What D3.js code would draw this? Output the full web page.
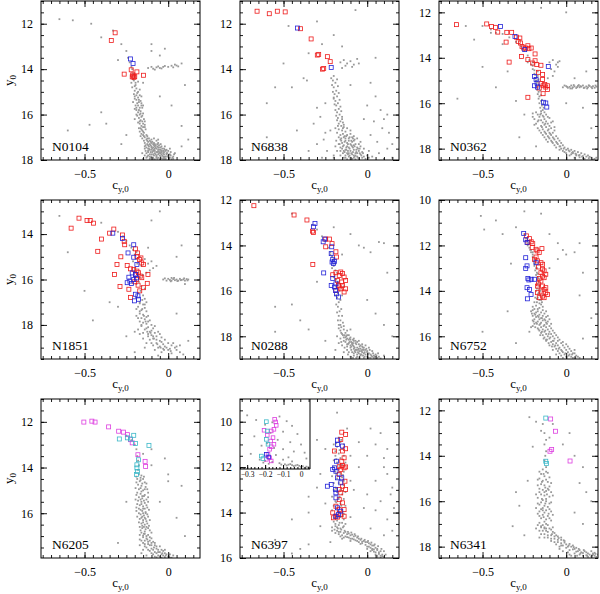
<!DOCTYPE html>
<html>
<head>
<meta charset="utf-8">
<script src="https://cdn.jsdelivr.net/npm/d3@7"></script>
<style>
  body { margin: 0; background: #fff; }
  text { font-family: "Liberation Serif", "DejaVu Serif", serif; fill: #000; }
</style>
</head>
<body>
<svg id="chart" width="600" height="594"></svg>
<script>
// ---- data: flat [c_y0, y0, c_y0, y0, ...] ----
const n0104Gray = [-.65,11.8,-.57,11.85,-.46,12,-.4,12.6,-.33,12.3,-.28,12.9,-.02,13.1,-.05,13.4,.04,13.8,.08,13.75,.1,14.7,-.4,15.9,-.47,16.45,-.37,16.4,.08,16.5,-.28,17.3,.08,17.4,.12,17.1,-.3,13.6,-.1,13.2,-.15,14.6,-.05,15.2,.02,15.6,-.6,16.7,-.25,16.9,-.1,12.9,
  -.25,13.2,-.24,13.5,-.23,13.7,-.22,13.9,-.215,14,-.21,14.2,-.2,14.35,-.205,14.5,-.195,14.6,
  -.12,13.95,-.1,13.9,-.09,13.98,-.07,13.92,-.06,13.88,-.05,13.95,-.03,13.9,-.02,13.86,0,13.9,.02,13.85,.03,13.92,.05,13.84,.06,13.88,-.08,14.02,-.04,13.97,
  -.195,14.7,-.19,14.85,-.2,14.95,-.185,15.05,-.19,15.15,-.18,15.25,-.19,15.35,-.175,15.45,-.185,15.5,-.18,15.6,-.17,15.7,-.175,15.8,-.165,15.85,-.18,15.9,-.17,16,-.16,16.1,-.175,16.15,-.165,16.25,-.155,16.3,-.17,16.4,-.16,16.5,-.15,16.55,-.165,16.6,-.155,16.7,-.145,16.8,-.16,16.85,-.15,16.9,-.14,17,-.155,17.05,-.2,16.2,-.14,16.3,-.15,15.6,
  -.21,14.45,-.18,14.55,-.215,14.8,-.17,14.9,-.205,15.1,-.16,15.2,-.2,15.3,-.165,15.4,-.195,15.6,-.155,15.7,-.19,15.8,-.15,15.95,-.185,16.05,-.145,16.2,-.18,16.35,-.14,16.45,-.175,16.6,-.135,16.65,-.17,16.75,-.13,16.9,-.165,16.95,-.125,17.05,-.2,15.75,-.16,15.5,-.21,15.45,-.15,16.75,
  -.22,14.6,-.2,14.75,-.18,15,-.17,15.15,-.2,15.2,-.175,15.35,-.16,15.6,-.19,15.7,-.165,15.95,-.19,16,-.155,16.05,-.17,16.3,-.15,16.4,-.16,16.65,-.14,16.55,-.145,16.95,
  -.13,17.1,-.12,17.2,-.11,17.15,-.1,17.25,-.12,17.35,-.09,17.3,-.08,17.4,-.1,17.45,-.11,17.55,-.07,17.5,-.09,17.6,-.06,17.55,-.08,17.7,-.1,17.75,-.05,17.65,-.07,17.8,-.04,17.75,-.06,17.9,-.09,17.9,-.03,17.85,-.05,17.97,-.02,17.95,-.08,17.97,-.11,17.85,-.12,17.65,-.13,17.45,-.04,17.4,-.06,17.25,-.03,17.6,0,17.8,.01,17.9,-.01,17.7,-.14,17.8,-.07,17.15,-.115,17.05,-.095,17.5,-.065,17.65,-.085,17.8,-.045,17.85,-.025,17.75,-.075,17.35,-.135,17.6,-.105,17.65,-.055,17.45,-.015,17.95,.02,17.97,
  -.14,17.25,-.125,17.3,-.115,17.4,-.105,17.35,-.095,17.2,-.085,17.25,-.075,17.45,-.065,17.4,-.055,17.35,-.045,17.55,-.035,17.5,-.025,17.65,-.015,17.6,-.005,17.85,.01,17.75,.03,17.85,-.13,17.7,-.12,17.8,-.11,17.95,-.1,17.85,-.09,17.75,-.08,17.6,-.07,17.65,-.06,17.75,-.05,17.8,-.04,17.65,-.03,17.95,-.02,17.85,-.01,17.55,0,17.6,-.12,17.5,-.1,17.55,-.08,17.5,-.06,17.62,-.04,17.93,-.09,17.45,-.11,17.3,-.07,17.9,-.1,17.1,-.085,17.05,-.125,16.95,-.145,17.15,-.06,17.1,-.045,17.3,-.02,17.4,.01,17.5,.04,17.7,.03,17.95,-.15,17.95,-.14,17.5,
  -.125,17.15,-.105,17.2,-.085,17.35,-.065,17.3,-.045,17.45,-.025,17.5,-.005,17.7,.015,17.8,-.135,17.35,-.115,17.5,-.095,17.65,-.075,17.75,-.055,17.7,-.035,17.8,-.015,17.85,.005,17.95,-.13,17.9,-.11,17.75,-.09,17.95,-.07,17.85,-.05,17.55,-.03,17.7,-.01,17.75,.015,17.65,-.1,17.4,-.08,17.3,-.06,17.45,-.04,17.6,-.02,17.55,-.12,17.6,-.14,17.4,-.155,17.7,-.125,17.85,-.105,17.9,-.085,17.55,-.065,17.95,-.045,17.7,-.025,17.9,.025,17.9,.035,17.75];
const n0104Red = [-.317,12.4,-.34,12.74,-.221,14.03,-.187,14.12,-.263,14.22,-.148,14.27,-.21,14.3,-.215,14.34,-.205,14.36,-.212,14.25,-.2,14.33];
const n0104Blue = [-.225,13.55,-.21,13.75];

const n6838Gray = [-.07,11.4,-.47,12.1,-.3,11.9,-.2,12.5,-.27,12.9,-.35,13.3,-.5,13.75,-.38,14.4,-.36,14.5,-.45,14.8,-.55,14.8,-.6,17,-.42,16.7,-.3,15.7,-.25,15.5,-.32,16.4,-.25,16.8,-.3,17.3,-.2,17.9,.1,16.2,.13,16.8,.12,17.5,.08,15.8,.05,15.2,.02,14.6,-.1,14.7,.15,17.9,-.15,13,-.6,15.5,.05,13.5,
  -.16,13.7,-.14,13.6,-.12,13.75,-.1,13.65,-.08,13.8,-.06,13.55,-.13,13.85,-.09,13.9,-.15,13.95,-.05,13.75,
  -.2,14.3,-.205,14.5,-.19,14.6,-.2,14.8,-.185,14.95,-.195,15.1,-.18,15.2,-.19,15.4,-.175,15.5,-.185,15.6,-.17,15.75,-.18,15.9,-.165,16,-.175,16.15,-.16,16.3,-.17,16.4,-.155,16.5,-.145,16.6,-.2,15.3,-.15,16.2,
  -.215,14.4,-.18,14.45,-.21,14.7,-.175,14.75,-.205,15,-.17,15.05,-.2,15.25,-.165,15.35,-.195,15.55,-.16,15.65,-.19,15.8,-.155,15.85,-.185,16.05,-.15,16.1,-.18,16.25,-.145,16.35,-.175,16.5,-.14,16.45,
  -.18,16.8,-.15,16.7,-.13,16.75,-.12,16.9,-.1,16.85,-.14,17,-.11,17.05,-.09,17,-.16,17.1,-.13,17.15,-.08,17.15,-.12,17.25,-.1,17.3,-.07,17.3,-.14,17.35,-.11,17.45,-.09,17.4,-.06,17.45,-.13,17.55,-.1,17.6,-.08,17.55,-.05,17.6,-.12,17.7,-.09,17.75,-.07,17.7,-.04,17.75,-.11,17.85,-.08,17.9,-.06,17.85,-.03,17.9,-.1,17.97,-.07,17.97,-.05,17.95,-.15,17.5,-.16,17.8,-.19,17.4,-.02,17.5,0,17.8,-.04,17.2,-.135,16.95,-.095,17.15,-.115,17.6,-.085,17.65,-.065,17.55,-.125,17.45,-.145,17.7,-.105,17.8,-.17,17,
  -.19,16.6,-.17,16.65,-.14,16.55,-.12,16.6,-.16,16.9,-.1,16.7,-.08,16.95,-.06,17.05,-.15,17.25,-.09,17.2,-.05,17.3,-.17,17.3,-.12,17.4,-.08,17.35,-.04,17.4,-.16,17.45,-.14,17.6,-.11,17.7,-.07,17.8,-.03,17.65,-.13,17.8,-.09,17.95,-.06,17.7,-.02,17.85,-.14,17.9,-.12,17.97,-.01,17.95,.01,17.6,.03,17.85,-.18,17.6,-.2,17.8,-.11,17.15,-.13,17.05,-.075,17.1,-.155,17.15,-.185,17.15,
  -.145,16.85,-.125,16.95,-.105,17,-.085,17.05,-.155,17.05,-.135,17.2,-.115,17.3,-.095,17.35,-.075,17.4,-.055,17.5,-.145,17.4,-.125,17.55,-.105,17.5,-.085,17.45,-.065,17.65,-.045,17.7,-.135,17.65,-.115,17.75,-.095,17.7,-.075,17.85,-.055,17.9,-.035,17.8,-.13,17.9,-.1,17.9,-.08,17.8,-.16,17.6,-.165,17.3,-.045,17.5,-.025,17.7,.01,17.9,
  -.28,16.1,-.22,16.7,-.26,17.1,-.24,17.6,.02,16.9,.06,17.2,.09,16.6,.12,16,.04,16.3,0,15.6,-.02,16.2,.15,17.3,-.35,17.6,-.27,17.9,.07,17.7,.1,17.95];
const n6838Red = [-.658,11.45,-.585,11.56,-.537,11.45,-.49,11.48,-.398,12.22,-.335,12.67,-.298,13.38,-.29,13.35,-.238,13.45,-.221,13.67,-.267,14,-.26,13.97];
const n6838Blue = [-.417,12.19,-.215,13.93];

const n0362Gray = [-.6,12.6,-.55,13.2,-.5,14.4,-.65,15.8,-.42,15.3,-.35,14.6,-.3,15.9,-.25,16.5,-.28,17.5,-.18,17.9,0,12,-.15,11.8,-.05,14.2,.05,14.9,.1,16.2,.15,17.1,-.45,12.9,-.38,13.4,.12,14.6,0,16,
  -.5,12.6,-.45,12.75,-.42,12.9,-.38,12.95,-.34,13.1,-.3,13.3,-.27,13.5,-.25,13.7,-.23,13.9,-.22,14.1,-.21,14.3,-.2,14.5,-.19,14.7,-.185,14.9,-.175,15.1,-.17,15.3,-.165,15.5,-.16,15.7,-.15,15.9,-.145,16.1,-.14,16.3,-.2,14.2,-.17,14.8,
  -.23,14.2,-.2,14.35,-.19,14.55,-.17,14.6,-.185,14.75,-.165,14.95,-.18,15,-.16,15.2,-.175,15.4,-.155,15.45,-.17,15.6,-.15,15.65,-.165,15.8,-.145,15.85,-.16,16,-.14,16.05,-.155,16.2,-.135,16.2,-.15,16.35,-.13,16.4,
  -.1,14.2,-.08,14.1,-.06,14.3,-.09,14.5,-.07,14.6,-.05,14.4,-.08,14.8,-.11,14.9,-.04,14.15,
  -.02,15.3,0,15.25,.01,15.32,.02,15.28,.03,15.22,.04,15.3,.05,15.26,.06,15.33,.07,15.24,.08,15.3,.09,15.27,.1,15.22,.11,15.31,.12,15.26,.13,15.3,.14,15.24,.15,15.29,.16,15.25,.17,15.32,.18,15.27,.035,15.35,.075,15.2,.125,15.35,
  -.01,15.22,.005,15.28,.025,15.35,.045,15.2,.065,15.29,.085,15.25,.105,15.33,.135,15.21,.155,15.34,.175,15.22,
  -.18,16.4,-.15,16.45,-.12,16.5,-.16,16.6,-.13,16.7,-.1,16.65,-.17,16.8,-.14,16.85,-.11,16.9,-.08,16.8,-.19,16.95,-.15,17,-.12,17.05,-.09,17.1,-.16,17.2,-.13,17.25,-.1,17.3,-.07,17.2,-.14,17.4,-.11,17.45,-.08,17.5,-.05,17.55,-.12,17.6,-.09,17.65,-.06,17.7,-.03,17.75,-.07,17.85,-.04,17.9,-.01,17.95,.01,18,.03,18.05,-.02,18.1,.05,18.1,.07,18.15,.04,18.2,.09,18.2,.11,18.25,.06,18.3,.13,18.3,.08,18.38,.15,18.4,.17,18.45,0,18.2,-.04,18.05,.1,18.42,.02,18.3,-.2,16.6,
  -.2,16.45,-.17,16.5,-.14,16.55,-.11,16.6,-.19,16.7,-.15,16.75,-.12,16.8,-.09,16.85,-.18,16.9,-.13,16.95,-.1,17,-.07,17.05,-.17,17.1,-.14,17.15,-.11,17.2,-.08,17.3,-.15,17.3,-.12,17.35,-.09,17.4,-.06,17.45,-.13,17.5,-.1,17.55,-.07,17.6,-.04,17.65,-.11,17.7,-.08,17.75,-.05,17.8,-.02,17.85,-.06,17.95,-.03,18,0,18.05,.02,18.12,-.01,18.15,.04,18.15,.06,18.25,.03,18.25,.08,18.28,.1,18.33,.12,18.35,.14,18.36,.11,18.45,.16,18.48,.05,18.4,.18,18.4,
  -.155,16.5,-.135,16.6,-.165,16.75,-.125,16.9,-.145,17.05,-.105,17.15,-.125,17.3,-.095,17.35,-.105,17.5,-.075,17.55,-.085,17.7,-.055,17.75,-.035,17.9,-.015,18,.015,18.08,.035,18.18,.055,18.22,.075,18.3,.095,18.35,.135,18.42];
const n0362Red = [-.655,12.54,-.475,12.51,-.446,12.62,-.422,12.66,-.409,12.87,-.355,12.88,-.326,12.88,-.359,13.31,-.297,13.09,-.287,13.28,-.273,13.35,-.264,13.5,-.254,13.57,-.242,13.57,-.223,13.6,-.209,13.57,-.277,13.13,-.229,13.47,-.341,14.19,-.267,13.94,-.229,14.08,-.2,14.23,-.186,13.83,-.186,14.13,-.176,14.3,-.151,14.33,-.165,14.64,-.141,14.74,-.141,14.96,-.151,15.14,-.138,15.23,-.128,15.18,-.161,15.33,-.122,15.29,-.112,15.23,-.112,15.4,-.138,15.58,-.229,15.74];
const n0362Blue = [-.393,12.62,-.306,13.06,-.248,13.64,-.19,14.82,-.18,14.96,-.19,15.23,-.171,15.29,-.174,15.11,-.107,14.38,-.136,15.96,-.116,16.17,-.122,15.99];

const n1851Gray = [-.65,13.2,-.4,13.5,-.6,14.8,-.5,16.5,-.35,17,-.3,17.2,-.25,18.5,-.18,18.2,.05,15,.08,14.5,-.05,13,-.1,13.4,.05,17.5,.12,18.7,.1,16.2,-.12,14.6,-.45,17.8,-.2,19.2,
  -.3,13.9,-.27,14.1,-.25,14.3,-.23,14.5,-.21,14.7,-.2,14.9,-.19,15.1,-.185,15.3,-.2,15.5,-.18,15.7,-.17,15.9,-.175,16.1,-.16,16.3,-.165,16.5,-.15,16.7,-.155,16.9,-.14,17.1,
  -.22,14.6,-.19,14.8,-.17,15,-.21,15.2,-.16,15.4,-.2,15.6,-.15,15.8,-.19,16.2,-.14,16.4,-.18,16.6,-.14,16.85,-.17,17.05,-.13,17,-.19,16.8,
  -.14,15.1,-.12,15.3,-.1,15.2,-.09,15.5,-.11,15.6,-.13,15.7,-.07,15.4,
  -.03,16,-.01,16.05,0,15.97,.01,16.02,.02,16.05,.03,15.98,.04,16.03,.05,16,.06,16.05,.07,15.97,.08,16.02,.09,16,.1,16.05,.11,15.98,.02,15.93,
  -.02,15.95,.015,16.08,.035,15.93,.055,16.07,.075,16.03,.095,15.95,.115,16.04,.12,16,
  -.17,17,-.15,17.1,-.18,17.2,-.14,17.25,-.16,17.35,-.13,17.4,-.17,17.5,-.15,17.55,-.12,17.6,-.16,17.7,-.14,17.75,-.11,17.8,-.15,17.9,-.13,17.95,-.1,18,-.12,18.1,-.09,18.15,-.14,18.2,-.11,18.3,-.08,18.35,-.06,18.3,-.1,18.45,-.07,18.5,-.04,18.55,-.09,18.6,-.05,18.7,-.02,18.65,-.07,18.8,-.03,18.85,0,18.8,-.05,18.95,.02,18.9,-.01,19,.04,19,0,19.1,.05,18.95,-.03,19.05,-.12,18.5,-.16,18,-.18,17.7,-.2,18.3,-.13,18.8,.07,19.2,-.08,19.1,
  -.19,17.3,-.17,17.4,-.19,17.6,-.13,17.65,-.17,17.85,-.12,17.85,-.16,18.05,-.13,18.15,-.1,18.25,-.15,18.35,-.12,18.4,-.09,18.5,-.11,18.65,-.07,18.65,-.04,18.75,-.09,18.9,-.06,19,-.02,18.95,.01,19.05,.03,18.8,-.04,19.2,.02,19.25,.05,19.1,-.1,18.8,-.15,18.6,-.17,18.4,-.08,18.05,-.05,18.4,.07,18.9,.09,19.3,-.14,19,-.06,19.35,
  -.155,17.3,-.145,17.6,-.135,17.85,-.125,18.3,-.105,18.35,-.085,18.6,-.065,18.85,-.045,19,-.025,19.1,.015,19.15];
const n1851Red = [-.533,13.3,-.485,13.4,-.466,13.4,-.446,13.52,-.58,13.74,-.325,13.78,-.35,13.96,-.273,14.04,-.398,14.22,-.263,14.32,-.26,14.47,-.421,14.76,-.196,14.65,-.183,14.83,-.187,14.98,-.171,15.12,-.163,15.05,-.283,15,-.158,15.27,-.306,15.34,-.245,15.38,-.225,15.53,-.206,15.56,-.187,15.63,-.177,15.7,-.196,15.78,-.167,15.85,-.158,15.92,-.321,15.78,-.148,15.34,-.121,15.78,-.125,16.17,-.288,16.31,-.235,16.43,-.148,16.36,-.225,16.79,-.2,16.1,-.18,16.25,-.19,16,-.17,16.5];
const n1851Blue = [-.331,13.96,-.273,14.19,-.206,14.47,-.24,14.83,-.206,15.02,-.187,15.34,-.215,15.71,-.19,15.93,-.196,15.78,-.229,16.07,-.245,16.14,-.219,16.18,-.206,16,-.196,16.65,-.181,16.72,-.202,16.94,-.177,16.87,-.235,15.9];

const n0288Gray = [-.45,12.6,-.55,16.7,-.45,16.6,-.4,17.3,-.35,17.7,-.25,18.2,-.55,17.8,-.05,14,-.02,14.1,.02,14.3,.07,13.85,.1,13.9,-.1,13.5,0,16.4,.05,17,.1,17.5,.12,15.2,-.3,15.6,-.2,13.2,-.15,14.4,.15,18,
  -.33,13.1,-.3,13.3,-.27,13.6,-.25,13.8,-.23,14.1,-.22,14.3,-.21,14.5,-.205,14.7,-.2,14.9,-.19,15.1,-.195,15.3,-.185,15.5,-.18,15.7,-.19,15.9,-.175,16.1,-.18,16.3,-.17,16.5,-.175,16.7,-.165,16.9,-.17,17.1,-.16,17.3,-.15,16.2,-.14,15.8,
  -.22,14.4,-.2,14.6,-.19,14.8,-.21,15,-.18,15.2,-.2,15.4,-.175,15.6,-.185,15.8,-.165,16,-.19,16.2,-.16,16.4,-.185,16.6,-.155,16.8,-.18,16.95,-.15,17.1,-.175,17.3,-.145,17.4,
  -.17,17.5,-.155,17.6,-.16,17.75,-.14,17.7,-.15,17.9,-.13,17.85,-.11,17.95,-.14,18.05,-.12,18.1,-.1,18.15,-.08,18.1,-.13,18.25,-.11,18.3,-.09,18.35,-.07,18.3,-.05,18.35,-.12,18.45,-.1,18.5,-.08,18.55,-.06,18.5,-.04,18.55,-.02,18.6,-.09,18.7,-.07,18.7,-.05,18.75,-.03,18.7,-.01,18.8,.01,18.75,-.06,18.9,-.04,18.85,-.02,18.95,0,18.9,.02,18.95,.04,18.85,.06,18.95,-.08,18.85,-.11,18.7,-.03,18.45,-.15,18.4,-.18,18,-.07,18.2,-.1,17.7,.03,18.65,-.135,17.95,-.095,18.25,-.065,18.6,-.045,18.65,-.025,18.85,-.085,18.4,
  -.16,17.5,-.14,17.55,-.17,17.65,-.12,17.75,-.155,17.85,-.12,17.95,-.1,18.05,-.16,18.1,-.08,18.2,-.14,18.2,-.12,18.35,-.06,18.25,-.04,18.4,-.1,18.4,-.08,18.45,-.02,18.5,-.07,18.6,-.05,18.55,-.03,18.6,0,18.65,-.08,18.75,-.04,18.8,-.02,18.75,0,18.7,.02,18.8,.03,18.9,.05,18.8,.07,18.9,.08,18.98,-.1,18.9,-.06,18.8,-.12,18.6,-.14,18.7,.01,18.95,.04,18.95,-.01,18.6,-.09,18.3,-.11,18.15,-.13,18.05,-.17,18.3,-.19,18.6,.1,18.85,
  -.145,17.95,-.125,18,-.105,18.1,-.085,18.15,-.125,18.15,-.105,18.25,-.085,18.3,-.065,18.35,-.045,18.45,-.025,18.5,-.005,18.55,-.115,18.35,-.095,18.45,-.075,18.5,-.055,18.6,-.035,18.65,-.015,18.7,.005,18.8,.025,18.85,.045,18.9,-.095,18.6,-.075,18.65,-.055,18.7,-.035,18.8,-.015,18.9,.005,18.98,-.065,18.95,-.045,18.95,-.085,18.95,.015,18.6,.035,18.75,.055,18.85,.065,18.75,-.115,18.8,-.135,18.5,-.155,18.25,-.05,18.2,-.03,18.35,-.01,18.4,.01,18.5];
const n0288Red = [-.677,12.25,-.437,12.66,-.36,12.88,-.327,13.37,-.321,13.43,-.248,13.72,-.225,13.72,-.248,14.06,-.21,13.92,-.325,14.84,-.187,14.28,-.183,14.51,-.206,15.29,-.187,15.2,-.167,15.32,-.158,15.17,-.148,15.24,-.138,15.39,-.152,15.61,-.177,15.54,-.129,15.54,-.167,15.83,-.158,15.91,-.148,15.76,-.129,15.91,-.138,16.05,-.187,15.98,-.171,15.76];
const n0288Blue = [-.312,13.03,-.321,13.18,-.263,13.84,-.254,13.72,-.212,14.06,-.215,14.36,-.206,14.61,-.196,14.7,-.21,14.73,-.202,14.8,-.26,15.21,-.187,15.69,-.196,15.83,-.19,15.98,-.183,16.13,-.171,16.27,-.206,15.46,-.215,15.76];

const n6752Gray = [-.51,10.7,-.49,11.3,-.42,10.9,-.38,11.5,-.3,11.2,-.33,12.8,-.15,10.6,-.05,11.9,-.02,12.2,0,12.4,.05,12.3,.08,11.9,.1,13.2,.08,14.2,-.1,13,-.35,14.9,-.5,15.8,-.3,16.3,.1,16.1,.15,15.2,-.1,11.5,-.25,10.5,-.05,12.6,-.22,15.8,
  -.25,11.5,-.24,11.7,-.23,11.9,-.22,12.1,-.21,12.3,-.2,12.5,-.195,12.7,-.19,12.9,-.185,13.1,-.18,13.3,-.175,13.5,-.17,13.7,-.175,13.9,-.165,14.1,-.17,14.3,-.16,14.4,-.175,14.5,-.15,14.6,-.18,14.65,-.16,14.75,-.14,14.2,
  -.23,12,-.21,12.2,-.2,12.4,-.19,12.6,-.185,12.8,-.18,13,-.175,13.2,-.17,13.4,-.165,13.6,-.16,13.8,-.18,14,-.155,14.2,-.175,14.35,-.15,14.4,-.19,14.5,-.16,14.55,-.2,14.7,-.14,14.7,
  -.215,12.2,-.2,12.3,-.19,12.8,-.175,13,-.17,13.25,-.165,13.45,-.16,13.9,-.155,14,-.17,14.15,-.185,14.3,-.145,14.5,-.17,14.8,-.19,14.8,
  -.2,14.85,-.17,14.9,-.14,14.85,-.19,15,-.16,15.05,-.13,15,-.18,15.15,-.15,15.2,-.12,15.15,-.2,15.3,-.17,15.35,-.14,15.3,-.11,15.35,-.19,15.45,-.16,15.5,-.13,15.5,-.1,15.55,-.17,15.65,-.14,15.7,-.11,15.7,-.08,15.75,-.15,15.85,-.12,15.9,-.09,15.9,-.06,15.95,-.13,16.05,-.1,16.1,-.07,16.1,-.04,16.15,-.09,16.25,-.06,16.3,-.03,16.3,0,16.35,-.07,16.45,-.04,16.5,-.01,16.5,.02,16.55,-.05,16.65,-.02,16.7,.01,16.7,.04,16.75,-.03,16.85,0,16.9,.03,16.9,.06,16.85,.08,16.95,-.1,16.4,-.12,16.2,.05,16.6,-.15,15.4,-.21,15.6,-.08,16.6,
  -.21,14.9,-.18,14.95,-.15,14.95,-.12,14.9,-.2,15.1,-.17,15.1,-.14,15.1,-.11,15.1,-.19,15.25,-.16,15.25,-.13,15.25,-.1,15.25,-.18,15.4,-.12,15.4,-.09,15.45,-.2,15.55,-.15,15.6,-.12,15.6,-.09,15.65,-.16,15.75,-.13,15.8,-.1,15.8,-.07,15.85,-.14,15.95,-.11,16,-.08,16,-.05,16.05,-.12,16.15,-.08,16.2,-.05,16.2,-.02,16.25,-.08,16.35,-.05,16.4,-.02,16.4,.01,16.45,-.06,16.55,-.03,16.6,0,16.6,.03,16.65,-.04,16.75,-.01,16.8,.02,16.8,.05,16.75,.07,16.9,.04,16.95,-.02,16.95,
  -.205,15,-.185,15.05,-.165,15.15,-.145,15.2,-.125,15.3,-.195,15.35,-.175,15.45,-.155,15.45,-.135,15.55,-.115,15.45,-.185,15.6,-.165,15.7,-.145,15.8,-.125,15.75,-.105,15.9,-.155,15.95,-.135,16.1,-.115,16.15,-.095,16.05,-.075,16.2,-.105,16.3,-.085,16.45,-.065,16.4,-.045,16.55,-.025,16.65,-.005,16.75,.015,16.85,.035,16.8,.055,16.95,-.06,16.8];
const n6752Red = [-.238,11.58,-.219,11.7,-.209,11.84,-.2,11.92,-.229,11.87,-.203,12.09,-.18,12.17,-.174,12.24,-.145,12.14,-.161,12.31,-.18,12.51,-.19,12.61,-.171,12.68,-.151,12.76,-.141,12.83,-.141,13.05,-.165,12.95,-.151,13.2,-.132,13.12,-.122,13.27,-.141,13.35,-.132,13.42,-.161,13.46,-.151,13.57,-.165,13.69,-.171,13.79,-.141,13.79,-.122,13.86,-.132,13.94,-.122,14.08,-.112,14.16,-.141,14.23,-.161,14.3,-.132,14.3,-.151,14.01,-.171,14.08];
const n6752Blue = [-.254,11.47,-.242,11.75,-.234,11.87,-.242,12.54,-.234,12.9,-.242,13.01,-.229,13.46,-.223,13.52,-.209,13.49,-.234,13.86,-.219,13.94,-.21,14.16,-.232,14.35,-.18,12.76,-.19,13.49];

const n6205Gray = [-.1,13.2,-.1,13.9,0,14.3,0,14.6,.08,14.8,-.3,17.3,-.05,15.5,.05,16.2,.1,17,-.25,15.5,-.15,13.4,-.02,13.6,
  -.25,12.6,-.22,12.8,-.2,13,-.19,13.2,-.185,13.5,-.18,13.7,-.175,13.9,-.18,14.1,
  -.175,14.3,-.16,14.35,-.185,14.5,-.15,14.5,-.17,14.6,-.14,14.65,-.18,14.75,-.16,14.8,-.135,14.85,-.175,14.95,-.15,15,-.185,15.1,-.165,15.15,-.14,15.2,-.175,15.3,-.155,15.35,-.13,15.4,-.18,15.45,-.16,15.5,-.14,15.55,-.17,15.65,-.15,15.7,-.125,15.75,-.175,15.8,-.155,15.9,-.135,15.95,-.165,16.05,-.145,16.1,-.12,16.15,-.17,16.25,-.15,16.3,-.13,16.35,-.16,16.45,-.14,16.5,-.115,16.55,-.155,16.65,-.135,16.7,-.11,16.75,-.19,15.9,-.12,15.1,
  -.19,14.4,-.165,14.45,-.145,14.4,-.19,14.65,-.155,14.7,-.13,14.7,-.195,14.9,-.165,14.9,-.125,14.95,-.19,15.2,-.155,15.25,-.12,15.3,-.195,15.4,-.145,15.45,-.12,15.5,-.185,15.6,-.16,15.6,-.13,15.65,-.19,15.75,-.14,15.8,-.115,15.85,-.175,16,-.15,16,-.125,16.05,-.185,16.15,-.16,16.2,-.135,16.25,-.11,16.3,-.175,16.4,-.15,16.4,-.125,16.45,-.17,16.6,-.145,16.6,-.12,16.65,-.165,16.75,-.14,16.8,-.1,16.85,
  -.165,14.55,-.14,14.95,-.16,15.05,-.145,15.25,-.165,15.4,-.15,15.8,-.165,15.85,-.135,16,-.155,16.15,-.14,16.2,-.155,16.55,-.13,16.6,-.145,16.9,-.125,17.15,-.1,17.3,-.085,17.5,-.06,17.7,-.035,17.75,-.015,17.85,.005,17.92,
  -.16,16.85,-.14,16.9,-.12,16.95,-.15,17.05,-.13,17.1,-.1,17.1,-.16,17.2,-.12,17.25,-.09,17.25,-.14,17.35,-.11,17.4,-.08,17.4,-.05,17.45,-.13,17.5,-.1,17.55,-.07,17.55,-.04,17.6,-.11,17.65,-.08,17.7,-.05,17.7,-.02,17.75,-.09,17.8,-.06,17.85,-.03,17.85,0,17.9,-.07,17.93,-.04,17.95,.02,17.95,-.15,17.6,-.17,17.4,.01,17.8,-.02,17.6,
  -.17,16.95,-.15,16.98,-.13,17,-.11,17.05,-.17,17.15,-.14,17.2,-.11,17.2,-.08,17.3,-.15,17.3,-.12,17.35,-.1,17.4,-.07,17.45,-.14,17.45,-.12,17.6,-.09,17.6,-.06,17.6,-.03,17.65,-.1,17.75,-.07,17.75,-.04,17.8,-.01,17.8,-.08,17.9,-.05,17.9,-.02,17.92,.01,17.95,.03,17.85,-.13,17.85,-.16,17.75];
const n6205Magenta = [-.504,12.01,-.456,11.97,-.437,12.01,-.356,12.22,-.296,12.41,-.267,12.45,-.244,12.56,-.225,12.78,-.215,12.92,-.181,13.44,-.138,13.73,-.135,13.95];
const n6205Cyan = [-.292,12.75,-.244,12.7,-.225,12.75,-.206,12.59,-.196,12.95,-.115,13.03,-.177,13.66,-.187,13.88,-.187,14.02,-.183,14.17,-.19,14.3];

const n6397Gray = [-.35,13.3,-.45,14.3,-.55,15.2,-.4,15.6,-.3,12.9,-.25,11.2,.02,10.3,.05,11,.1,11.6,.12,12.3,.15,12.9,.08,13.5,.12,14.3,.02,14.7,-.05,12,-.08,13,-.1,11.5,-.28,14.6,-.22,15.3,.1,15,-.02,13.8,.05,12.6,-.12,10.3,-.3,10.8,0,11.5,.16,13.8,-.35,15.4,-.18,9.6,
  -.05,10.9,.08,10.5,.12,11.2,-.28,12.3,-.25,13.6,-.1,14.2,.05,13.9,.15,14.8,-.35,14,-.45,15.8,-.1,12.6,0,13.2,.1,12,.14,13.2,
  -.17,10.7,-.16,10.9,-.18,11.1,-.15,11.2,-.17,11.4,-.19,11.5,-.16,11.6,-.18,11.8,-.15,11.9,-.17,12.1,-.19,12.2,-.16,12.3,-.18,12.5,-.14,12.6,-.17,12.7,-.19,12.9,-.16,13,-.18,13.1,-.15,13.2,-.17,13.4,-.19,13.5,-.16,13.6,-.18,13.8,-.15,13.9,-.17,14,-.19,14.1,-.16,14.2,-.18,14.35,-.2,14.4,-.15,14.45,-.17,14.55,-.19,14.6,-.16,14.7,-.14,14.3,
  -.2,11,-.14,11,-.19,11.3,-.14,11.5,-.2,11.7,-.13,11.8,-.2,12,-.14,12.2,-.21,12.4,-.15,12.45,-.2,12.7,-.14,12.8,-.2,13,-.13,13.1,-.21,13.3,-.14,13.4,-.2,13.7,-.13,13.7,-.21,13.9,-.14,14.05,-.2,14.25,-.13,14.5,-.21,14.65,-.18,14.65,-.14,14.6,
  -.19,14.5,-.145,14.65,-.165,14.45,-.185,14.2,-.145,14.15,-.175,13.95,-.155,13.7,-.185,13.55,-.165,13.3,-.145,13.05,-.185,12.95,-.165,12.55,-.185,12.3,-.145,12.35,-.165,11.95,-.185,11.65,-.165,11.25,-.185,10.95,-.155,10.8,
  -.18,14.8,-.16,14.85,-.14,14.9,-.17,14.95,-.12,14.95,-.15,15,-.1,15,-.13,15.05,-.08,15.05,-.11,15.1,-.06,15.1,-.09,15.15,-.04,15.2,-.07,15.22,-.02,15.25,-.05,15.3,0,15.3,-.03,15.35,.02,15.4,-.01,15.42,.04,15.45,.01,15.5,.05,15.55,.03,15.6,.06,15.65,.04,15.72,.07,15.75,.05,15.85,.08,15.9,.02,15.7,-.1,15.25,-.15,15.15,0,15.6,.06,15.95,
  -.21,14.8,-.19,14.9,-.17,14.85,-.13,14.85,-.11,14.92,-.09,14.97,-.16,15.05,-.14,15.1,-.12,15.08,-.07,15.02,-.1,15.15,-.08,15.18,-.05,15.15,-.06,15.25,-.03,15.28,-.01,15.3,-.04,15.38,.01,15.35,.03,15.45,0,15.5,.02,15.55,.04,15.62,.06,15.6,.05,15.75,.08,15.7,.07,15.82,.09,15.85,.06,15.9,.1,15.95,.08,15.98,.03,15.65,
  -.195,14.75,-.175,14.7,-.155,14.75,-.135,14.8,-.115,14.85,-.095,14.88,-.075,14.95,-.055,15.05,-.035,15.15,-.015,15.2,.005,15.25,.025,15.32,.045,15.4,.065,15.48,.085,15.6,.1,15.7,.11,15.85,.09,15.92];
const n6397Red = [-.152,10.46,-.129,10.56,-.158,10.78,-.196,11.29,-.148,11.29,-.129,11.19,-.138,11.59,-.152,11.74,-.167,11.98,-.148,11.93,-.138,12.03,-.129,11.99,-.158,12.1,-.167,12.32,-.133,12.62,-.148,12.84,-.167,12.98,-.158,13.13,-.129,12.98,-.167,13.43,-.148,13.57,-.187,13.72,-.167,13.87,-.138,13.87,-.206,14.01,-.187,14.16,-.138,14.16,-.158,14.09,-.202,14.23,-.177,14.2];
const n6397Blue = [-.177,10.81,-.177,11,-.148,11.07,-.196,12.03,-.206,12.1,-.187,12.18,-.183,11.74,-.177,12.47,-.152,12.47,-.158,12.69,-.215,12.76,-.238,12.84,-.19,12.98,-.187,13.13,-.187,13.35,-.177,13.79,-.171,14.09,-.187,14.16,-.158,13.94];
// inset of the N6397 panel (its own c_y0 / y0 ranges)
const insetGray = [-.3,10.4,-.25,10.8,-.12,10.5,-.08,10.9,-.05,11.3,-.2,11.2,-.1,11.8,-.02,12,-.26,12.2,-.13,12.5,-.06,12.7,0,12.9,-.22,13,-.1,13.3,-.04,13.5,.02,13.6,-.28,13.7,-.14,13.8,-.07,14,.03,14.1,-.2,14.3,-.16,14.4,-.12,14.5,-.18,14.55,-.15,13.2,-.19,12.8,-.17,11.9,-.16,11,-.21,14.45,-.23,14.2,-.1,14.2,-.05,14.35,
  -.09,14.6,-.07,14.63,-.05,14.67,-.03,14.7,-.01,14.73,.01,14.77,.03,14.8,.04,14.85,-.08,14.7,-.04,14.75,0,14.82,.02,14.9,.045,14.93,-.06,14.58,-.02,14.65,-.11,14.62];
const insetMagenta = [-.147,10.74,-.141,10.97,-.138,11.26,-.151,11.6,-.166,11.74,-.206,11.68,-.188,12.11,-.156,12.31,-.169,12.6,-.151,12.88,-.166,13.09,-.175,13.31,-.184,13.74,-.175,14.03,-.193,14.17,-.166,14.31];
const insetCyan = [-.193,10.94,-.188,11.74,-.193,12.46,-.184,12.88,-.221,13.89,-.212,14.11];
const insetBlue = [-.193,13.74,-.18,13.97];

const n6341Gray = [-.22,12.3,-.18,12.5,-.15,12.9,-.08,12.6,-.02,13.5,.02,13,.05,14,.1,14.5,.12,15.6,.15,16,.1,17,-.23,15.1,-.3,15.6,-.32,17.1,-.28,16.2,-.25,17.5,.05,16.5,.08,15.2,-.2,13.6,-.1,13.2,
  -.14,12.6,-.13,13,-.12,13.3,-.13,13.5,-.12,13.8,-.125,14,-.13,14.2,-.12,14.5,
  -.14,14.6,-.12,14.7,-.15,14.8,-.13,14.9,-.1,14.95,-.16,15,-.14,15.1,-.11,15.15,-.15,15.25,-.13,15.3,-.1,15.35,-.16,15.45,-.14,15.5,-.12,15.55,-.09,15.6,-.15,15.7,-.13,15.75,-.1,15.8,-.17,15.85,-.14,15.95,-.12,16,-.09,16.05,-.16,16.15,-.13,16.2,-.11,16.25,-.15,16.35,-.12,16.4,-.09,16.45,-.17,16.55,-.14,16.6,-.11,16.65,-.15,16.75,-.12,16.8,-.09,16.85,-.18,16.3,
  -.16,14.7,-.11,14.75,-.17,15.05,-.12,15.05,-.09,15.2,-.17,15.3,-.11,15.45,-.13,15.6,-.16,15.6,-.08,15.75,-.12,15.9,-.15,16.05,-.1,16.1,-.14,16.3,-.1,16.35,-.16,16.45,-.13,16.5,-.08,16.6,-.16,16.65,-.13,16.9,-.1,16.75,-.17,16.1,-.18,15.7,
  -.135,14.8,-.145,15.15,-.125,15.4,-.105,15.5,-.145,15.9,-.115,15.7,-.125,16.1,-.105,16.55,-.135,16.7,-.14,16.4,
  -.16,16.95,-.14,17.05,-.12,17,-.15,17.15,-.12,17.2,-.09,17.25,-.14,17.3,-.11,17.35,-.07,17.4,-.13,17.45,-.09,17.5,-.05,17.55,-.11,17.6,-.07,17.65,-.03,17.7,-.09,17.75,-.05,17.8,-.01,17.82,.02,17.88,-.06,17.9,-.02,17.95,.03,18,.06,18.05,0,18.05,.04,18.12,.08,18.15,.11,18.2,.06,18.22,.1,18.28,.13,18.3,.16,18.35,.12,18.38,.15,18.43,.18,18.45,.08,18.35,.17,18.27,-.04,18.1,.01,18.25,-.16,17.6,-.18,17.2,
  -.17,17.05,-.15,17.1,-.13,17.15,-.1,17.2,-.16,17.3,-.12,17.3,-.08,17.35,-.15,17.45,-.11,17.5,-.07,17.55,-.03,17.6,-.13,17.6,-.09,17.65,-.05,17.7,-.01,17.75,-.07,17.8,-.03,17.85,0,17.9,.04,17.95,-.04,18,.01,18,.05,18.1,.02,18.15,.07,18.2,.09,18.25,.05,18.3,.12,18.25,.14,18.35,.1,18.4,.17,18.4,.13,18.45,.19,18.35,.16,18.3,.15,18.2,-.02,18.2,.03,18.4,
  -.085,17.45,-.045,17.62,-.015,17.72,.015,17.95,.045,18.02,.075,18.1,.105,18.15,.125,18.4,.155,18.38,.175,18.32,.085,18.3,.065,18.4,-.11,17.05,-.08,17.15,-.06,17.5,-.03,17.95,.02,18.35,-.13,17.2];
const n6341Magenta = [-.093,12.38,-.064,12.92,-.087,13.72,-.097,13.8,.023,14.23];
const n6341Cyan = [-.122,12.34,-.118,14.34,-.122,14.24];

const xTicks = [-0.5, 0];
const insetXTicks = [-0.3, -0.2, -0.1, 0];

const RED = "#ee1c1c", BLUE = "#2424d8", MAG = "#dd3ee0", CYAN = "#3cb8c8";
const FONT = "Liberation Serif, DejaVu Serif, serif";

const panels = [
  { name: "N0104", y: [11, 18],    yt: [12, 14, 16, 18], gray: n0104Gray, sets: [[n0104Red, RED], [n0104Blue, BLUE]] },
  { name: "N6838", y: [11, 18],    yt: [12, 14, 16, 18], gray: n6838Gray, sets: [[n6838Red, RED], [n6838Blue, BLUE]] },
  { name: "N0362", y: [11.5, 18.5], yt: [12, 14, 16, 18], gray: n0362Gray, sets: [[n0362Red, RED], [n0362Blue, BLUE]] },
  { name: "N1851", y: [12.5, 19.5], yt: [14, 16, 18],    gray: n1851Gray, sets: [[n1851Red, RED], [n1851Blue, BLUE]] },
  { name: "N0288", y: [12, 19],    yt: [12, 14, 16, 18], gray: n0288Gray, sets: [[n0288Red, RED], [n0288Blue, BLUE]] },
  { name: "N6752", y: [10, 17],    yt: [10, 12, 14, 16], gray: n6752Gray, sets: [[n6752Red, RED], [n6752Blue, BLUE]] },
  { name: "N6205", y: [11, 17.96], yt: [12, 14, 16],    gray: n6205Gray, sets: [[n6205Magenta, MAG], [n6205Cyan, CYAN]] },
  { name: "N6397", y: [9, 16],     yt: [10, 12, 14, 16], gray: n6397Gray, sets: [[n6397Red, RED], [n6397Blue, BLUE]], inset: true },
  { name: "N6341", y: [11.5, 18.5], yt: [12, 14, 16, 18], gray: n6341Gray, sets: [[n6341Magenta, MAG], [n6341Cyan, CYAN]] }
];

const W = 159, H = 159;
const lefts = [41, 240, 439], tops = [1, 200, 399];
const xDom = [-0.76, 0.19];

const svg = d3.select("#chart");

function pairs(a) {
  const r = [];
  for (let i = 0; i < a.length; i += 2) r.push([a[i], a[i + 1]]);
  return r;
}

function drawStars(g, x, y, gray, sets, sq) {
  g.append("g").selectAll("rect").data(pairs(gray)).join("rect")
    .attr("x", d => x(d[0]) - 0.9).attr("y", d => y(d[1]) - 0.9)
    .attr("width", 1.8).attr("height", 1.8).attr("fill", "#999");
  sets.forEach(([arr, c]) => {
    g.append("g").selectAll("rect").data(pairs(arr)).join("rect")
      .attr("x", d => x(d[0]) - sq / 2).attr("y", d => y(d[1]) - sq / 2)
      .attr("width", sq).attr("height", sq)
      .attr("fill", "none").attr("stroke", c).attr("stroke-width", 0.8);
  });
}

const xMinor = d3.range(-15, 4).map(k => k * 0.05).filter(v => v > xDom[0] && v < xDom[1]);

panels.forEach((p, i) => {
  const col = i % 3, row = Math.floor(i / 3);
  const g = svg.append("g").attr("transform", `translate(${lefts[col]},${tops[row]})`);
  const x = d3.scaleLinear().domain(xDom).range([0, W]);
  const y = d3.scaleLinear().domain(p.y).range([0, H]);

  g.append("clipPath").attr("id", "clip" + i)
    .append("rect").attr("width", W).attr("height", H);
  const plot = g.append("g").attr("clip-path", `url(#clip${i})`);
  drawStars(plot, x, y, p.gray, p.sets, 4);

  if (p.inset) {
    const iw = 70, ih = 70;
    const ix = d3.scaleLinear().domain([-0.34, 0.05]).range([0, iw]);
    const iy = d3.scaleLinear().domain([9, 15]).range([0, ih]);
    const ig = g.append("g");
    ig.append("rect").attr("width", iw).attr("height", ih).attr("fill", "#fff");
    ig.append("clipPath").attr("id", "clipInset")
      .append("rect").attr("width", iw).attr("height", ih);
    const ip = ig.append("g").attr("clip-path", "url(#clipInset)");
    drawStars(ip, ix, iy, insetGray, [[insetMagenta, MAG], [insetCyan, CYAN], [insetBlue, BLUE]], 3.6);
    ig.append("path").attr("d", `M${iw},0V${ih}H0`).attr("fill", "none").attr("stroke", "#000").attr("stroke-width", 1);
    const iminor = d3.range(-17, 3).map(k => k * 0.02);
    ig.append("g").attr("transform", `translate(0,${ih})`)
      .call(d3.axisBottom(ix).tickValues(iminor).tickSize(-2).tickFormat(""))
      .call(a => a.select(".domain").remove());
    ig.append("g").attr("transform", `translate(0,${ih})`)
      .attr("font-family", FONT).attr("font-size", 7.5)
      .call(d3.axisBottom(ix).tickValues(insetXTicks).tickSize(-4).tickPadding(3).tickFormat(d3.format("")))
      .call(a => a.select(".domain").remove())
      .call(a => a.selectAll("text").attr("font-family", FONT).attr("font-size", 7.5));
  }

  // minor ticks on all sides, then major ticks with labels
  const yMinor = d3.range(Math.ceil(p.y[0] * 2), Math.floor(p.y[1] * 2) + 1).map(k => k / 2);
  const tick = (axis, tr) => g.append("g").attr("transform", tr).call(axis)
    .attr("font-family", FONT).attr("font-size", 12)
    .call(a => a.select(".domain").remove())
    .call(a => a.selectAll("line").attr("stroke", "#000").attr("stroke-width", 0.9))
    .call(a => a.selectAll("text").attr("font-family", FONT).attr("font-size", 12).attr("fill", "#000"));
  tick(d3.axisBottom(x).tickValues(xMinor).tickSize(-3).tickFormat(""), `translate(0,${H})`);
  tick(d3.axisTop(x).tickValues(xMinor).tickSize(-3).tickFormat(""), "translate(0,0)");
  tick(d3.axisLeft(y).tickValues(yMinor).tickSize(-3).tickFormat(""), "translate(0,0)");
  tick(d3.axisRight(y).tickValues(yMinor).tickSize(-3).tickFormat(""), `translate(${W},0)`);
  tick(d3.axisBottom(x).tickValues(xTicks).tickSize(-6).tickPadding(9).tickFormat(d3.format("")), `translate(0,${H})`);
  tick(d3.axisTop(x).tickValues(xTicks).tickSize(-6).tickFormat(""), "translate(0,0)");
  tick(d3.axisLeft(y).tickValues(p.yt).tickSize(-6).tickPadding(8).tickFormat(d3.format("")), "translate(0,0)");
  tick(d3.axisRight(y).tickValues(p.yt).tickSize(-6).tickFormat(""), `translate(${W},0)`);

  g.append("rect").attr("width", W).attr("height", H)
    .attr("fill", "none").attr("stroke", "#000").attr("stroke-width", 1);

  g.append("text").attr("x", 11).attr("y", H - 9)
    .attr("font-size", 13.5).text(p.name);

  const xl = g.append("text").attr("x", W / 2).attr("y", H + 29)
    .attr("text-anchor", "middle").attr("font-size", 13);
  xl.append("tspan").text("c");
  xl.append("tspan").attr("font-size", 9).attr("dy", 3).text("y,0");

  if (col === 0) {
    const yl = svg.append("text")
      .attr("transform", `translate(13,${tops[row] + H / 2}) rotate(-90)`)
      .attr("text-anchor", "middle").attr("font-size", 13);
    yl.append("tspan").text("y");
    yl.append("tspan").attr("font-size", 9).attr("dy", 3).text("0");
  }
});
</script>
</body>
</html>
